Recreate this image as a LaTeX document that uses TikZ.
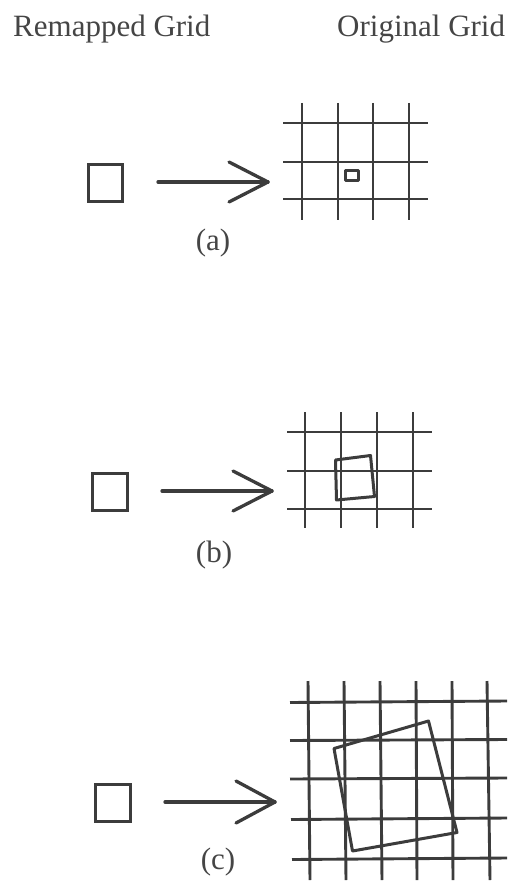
\documentclass[tikz,border=0pt]{standalone}
\usepackage{fontspec}
\setmainfont{Liberation Serif}
\definecolor{ink}{HTML}{3C3C3C}
\definecolor{txt}{HTML}{454545}
\tikzset{
  gridline/.style={draw=ink, line width=2.9pt},
  boxline/.style={draw=ink, line width=3pt, line join=round},
  sq/.style={draw=ink, line width=3pt, minimum width=34.5pt, minimum height=36.5pt, inner sep=0pt},
  mapline/.style={draw=ink, line width=3.3pt, line cap=round, line join=round},
  lbl/.style={text=txt, font=\fontsize{31}{36}\selectfont, inner sep=0pt, anchor=base}
}
\begin{document}
\begin{tikzpicture}[x=1pt, y=-1pt]
\useasboundingbox (0,0) rectangle (513,882);
% headers
\node[lbl, anchor=base west] (hr) at (13,37) {Remapped Grid};
\node[lbl, anchor=base west] (ho) at (337,37) {Original Grid};

% ---------- (a)
\node[sq] (sqa) at (105.5,183) {};
\coordinate (a1) at (158,182);
\coordinate (a2) at (268,182);
\draw[mapline] (a1) -- (a2);
\draw[mapline] (a2) ++(-39,-20) -- (a2) -- ++(-39,20);
\foreach \x in {302,338,373,409} \draw[gridline] (\x,103) -- (\x,220);
\foreach \y in {123,162,199} \draw[gridline] (283,\y) -- (428,\y);
\draw[boxline] (345.5,170.5) rectangle (358.5,180.5);
\node[lbl] (la) at (213,251) {(a)};

% ---------- (b)
\node[sq] (sqb) at (110,492) {};
\coordinate (b1) at (162,491);
\coordinate (b2) at (272,491);
\draw[mapline] (b1) -- (b2);
\draw[mapline] (b2) ++(-39,-20) -- (b2) -- ++(-39,20);
\foreach \x in {305,341,377,413} \draw[gridline] (\x,412) -- (\x,528);
\foreach \y in {432,471,509} \draw[gridline] (287,\y) -- (432,\y);
\draw[boxline] (335.5,460) -- (370.5,455.5) -- (374.5,496.5) -- (336.5,500) -- cycle;
\node[lbl] (lb) at (214,562) {(b)};

% ---------- (c)
\node[sq] (sqc) at (113,803) {};
\coordinate (c1) at (165,802);
\coordinate (c2) at (275,802);
\draw[mapline] (c1) -- (c2);
\draw[mapline] (c2) ++(-39,-21) -- (c2) -- ++(-39,21);
\draw[gridline] (308,681) -- (310,880);
\draw[gridline] (344,681) -- (346,880);
\draw[gridline] (380,681) -- (382,880);
\draw[gridline] (416,681) -- (417,880);
\draw[gridline] (452,681) -- (453,880);
\draw[gridline] (487,681) -- (490,880);
\draw[gridline] (290,702.5) -- (507,701);
\draw[gridline] (290,740.5) -- (507,739.5);
\draw[gridline] (290,779) -- (507,778);
\draw[gridline] (291,819.5) -- (507,818);
\draw[gridline] (292,859.5) -- (507,858);
\draw[boxline] (334,748.5) -- (428.5,721) -- (457,832.5) -- (352.5,851) -- cycle;
\node[lbl] (lc) at (218,869) {(c)};
\end{tikzpicture}
\end{document}
